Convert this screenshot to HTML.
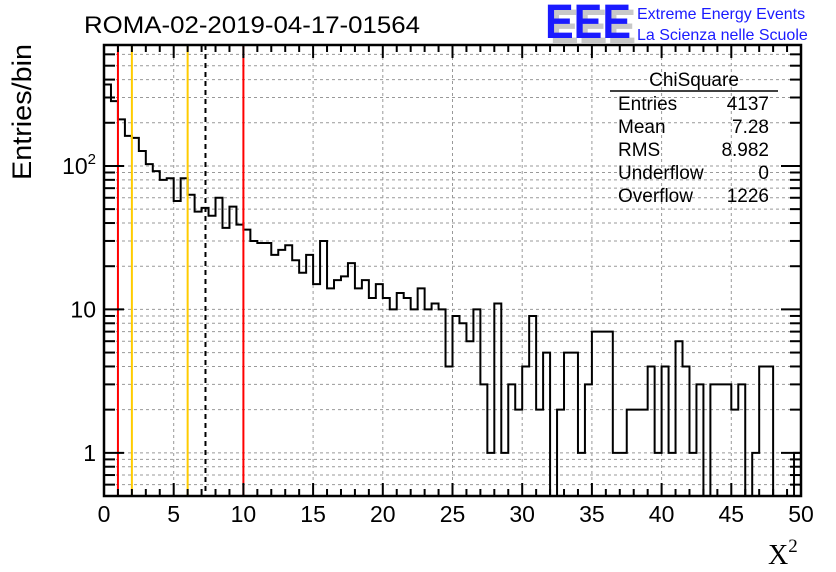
<!DOCTYPE html>
<html><head><meta charset="utf-8">
<style>
html,body{margin:0;padding:0;background:#fff;}
svg{display:block;font-family:"Liberation Sans",sans-serif;}
</style></head>
<body>
<svg id="chart" width="836" height="572" viewBox="0 0 836 572" xmlns="http://www.w3.org/2000/svg">
  <text x="84" y="33" font-size="24" textLength="336" lengthAdjust="spacingAndGlyphs">ROMA-02-2019-04-17-01564</text>
  <g>
    <text x="550" y="43" font-size="48" font-weight="bold" fill="#c8c8c8" textLength="86" lengthAdjust="spacingAndGlyphs">EEE</text>
    <text x="545" y="38" font-size="48" font-weight="bold" fill="#1a1aff" textLength="86" lengthAdjust="spacingAndGlyphs">EEE</text>
    <text x="637" y="19" font-size="16" fill="#1a1aff">Extreme Energy Events</text>
    <text x="637" y="40" font-size="16" fill="#1a1aff">La Scienza nelle Scuole</text>
  </g>
  <g id="grid"></g>
  <g id="marks"></g>
  <g id="axes"></g>
  <g font-size="19">
    <text x="694" y="86" text-anchor="middle">ChiSquare</text>
    <line x1="610" y1="91" x2="778" y2="91" stroke="#000" stroke-width="1.5"/>
    <text x="618" y="110">Entries</text><text x="769" y="110" text-anchor="end">4137</text>
    <text x="618" y="133">Mean</text><text x="769" y="133" text-anchor="end">7.28</text>
    <text x="618" y="156">RMS</text><text x="769" y="156" text-anchor="end">8.982</text>
    <text x="618" y="179">Underflow</text><text x="769" y="179" text-anchor="end">0</text>
    <text x="618" y="202">Overflow</text><text x="769" y="202" text-anchor="end">1226</text>
  </g>
  <text transform="translate(31,180) rotate(-90)" font-size="27" textLength="136" lengthAdjust="spacingAndGlyphs">Entries/bin</text>
  <text x="768" y="564" font-size="28" font-family="Liberation Serif, serif">X<tspan font-size="19" dy="-12">2</tspan></text>
</svg>
<script>
const counts = [370,283,211,162,157,127,103,92,80,82,57,82,63,48,51,45,60,37,52,39,36,30,29,29,24,26,28,22,18,24,15,30,14,16,17,21,
14,16,12,15,12,10,13,12,10,14,10,11,10,4,9,8,6,10,3,1,11,1,3,2,4,9,2,5,0,2,5,5,
1,3,7,7,7,1,1,2,2,2,4,1,4,1,6,4,1,3,0,3,3,3,2,3,0,1,4,4,0,0,0,1];
const binWidth = 0.5;
const xTicks = [0,5,10,15,20,25,30,35,40,45,50];
const yMajor = [1,10,100];
const yMajorLabels = ["1","10","10²"];
const cutLines = [1,2,6,7.28,10];
const cutColors = ["#ff0000","#ffcc00","#ffcc00","#000000","#ff0000"];

const NS="http://www.w3.org/2000/svg";
const X0=104,X1=801,Y0=496,Y1=45, xmin=0,xmax=50;
const ymin=Math.log10(0.5), ymax=Math.log10(697);
const sx=v=>X0+(v-xmin)/(xmax-xmin)*(X1-X0);
const sy=v=>{ if(v<=0.5) return Y0; return Y0-(Math.log10(v)-ymin)/(ymax-ymin)*(Y0-Y1); };
function el(tag,attrs,parent){const e=document.createElementNS(NS,tag);for(const k in attrs)e.setAttribute(k,attrs[k]);parent.appendChild(e);return e;}
const grid=document.getElementById('grid'), marks=document.getElementById('marks'), axes=document.getElementById('axes');

for(const t of xTicks){ if(t===0||t===50) continue;
  const g=el('line',{x1:sx(t),x2:sx(t),y1:Y1,y2:Y0,stroke:'#999','stroke-dasharray':'3,3','stroke-width':1},grid);
    }
for(let d=0; d<=2; d++){ for(let m=1;m<=9;m++){ const v=m*Math.pow(10,d); if(v<0.5||v>697) continue;
  const g=el('line',{x1:X0,x2:X1,y1:sy(v),y2:sy(v),stroke:'#999','stroke-dasharray':'3,3','stroke-width':1},grid);
    } }
[0.5,0.6,0.7,0.8,0.9].forEach(v=>{const g=el('line',{x1:X0,x2:X1,y1:sy(v),y2:sy(v),stroke:'#999','stroke-dasharray':'3,3'},grid);
   });

let d=`M${sx(0)},${sy(counts[0])}`;
counts.forEach((c,i)=>{ const xb=sx((i+1)*binWidth); d+=` V${sy(c)} H${xb}`; });
const clip=el('clipPath',{id:'plotclip'},marks); el('rect',{x:X0,y:Y1,width:X1-X0,height:Y0-Y1},clip);
const h=el('path',{d:d,fill:'none',stroke:'#000','stroke-width':2,'clip-path':'url(#plotclip)'},marks);



cutLines.forEach((v,i)=>{
  const l=el('line',{x1:sx(v),x2:sx(v),y1:Y1,y2:Y0,stroke:cutColors[i],'stroke-width':2},marks);
  if(cutColors[i]==='#000000') l.setAttribute('stroke-dasharray','5,4');
  
  
});

const fr=el('rect',{x:X0,y:Y1,width:X1-X0,height:Y0-Y1,fill:'none',stroke:'#000','stroke-width':2.5},axes);
 
for(let v=0; v<=50; v++){ const major=v%5===0, len=major?13:7;
  el('line',{x1:sx(v),x2:sx(v),y1:Y0,y2:Y0-len,stroke:'#000','stroke-width':2},axes);
  el('line',{x1:sx(v),x2:sx(v),y1:Y1,y2:Y1+len,stroke:'#000','stroke-width':2},axes); }
xTicks.forEach(t=>{ const tx=el('text',{x:sx(t),y:522,'font-size':23,'text-anchor':'middle'},axes); tx.textContent=t;
    });
for(let dd=-1; dd<=2; dd++){ for(let m=1;m<=9;m++){ const v=m*Math.pow(10,dd); if(v<0.5||v>697) continue;
  const len=(m===1)?20:11;
  el('line',{x1:X0,x2:X0+len,y1:sy(v),y2:sy(v),stroke:'#000','stroke-width':2},axes);
  el('line',{x1:X1,x2:X1-len,y1:sy(v),y2:sy(v),stroke:'#000','stroke-width':2},axes); } }
yMajor.forEach((v,i)=>{ const tx=el('text',{x:96,y:sy(v)+8,'font-size':23,'text-anchor':'end'},axes);
  if(i===2){ tx.textContent='10'; const ts=el('tspan',{'font-size':15,dy:-10},tx); ts.textContent='2'; }
  else tx.textContent=yMajorLabels[i];
    });
</script>
</body></html>
